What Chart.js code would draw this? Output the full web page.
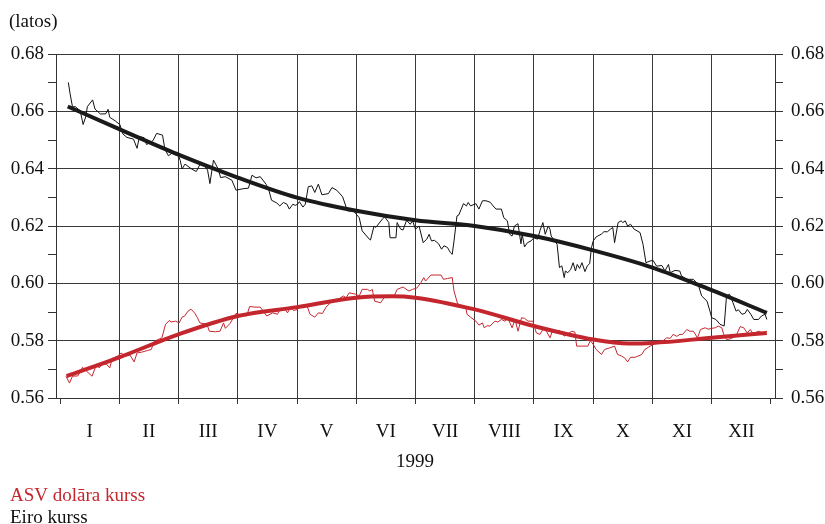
<!DOCTYPE html>
<html>
<head>
<meta charset="utf-8">
<script src="https://cdn.jsdelivr.net/npm/chart.js@4"></script>
<style>
  html, body { margin: 0; padding: 0; background: #fff; }
  #wrap { width: 825px; height: 524px; }
</style>
</head>
<body>
<div id="wrap"><canvas id="kursi" width="825" height="524"></canvas></div>
<script>
// Mēneši (x ass: 0..12, katrs mēnesis vienāds platums)
const monthLabels = ['I', 'II', 'III', 'IV', 'V', 'VI', 'VII', 'VIII', 'IX', 'X', 'XI', 'XII'];
const yTickValues = [0.56, 0.57, 0.58, 0.59, 0.60, 0.61, 0.62, 0.63, 0.64, 0.65, 0.66, 0.67, 0.68];
const yTickLabels = ['0.56', '', '0.58', '', '0.60', '', '0.62', '', '0.64', '', '0.66', '', '0.68'];

// Eiro kurss (dienas dati), pozīcija mēnešos
const euroPos = [0.14, 0.17, 0.21, 0.26, 0.34, 0.39, 0.44, 0.46, 0.55, 0.59, 0.68, 0.77, 0.81, 0.84, 0.93,
  1.01, 1.06, 1.13, 1.24, 1.30, 1.34, 1.42, 1.46, 1.57, 1.63, 1.73, 1.77, 1.83, 1.91, 1.98,
  2.03, 2.06, 2.11, 2.22, 2.30, 2.36, 2.43, 2.49, 2.53, 2.59, 2.67, 2.71, 2.79, 2.90, 2.97,
  3.09, 3.18, 3.24, 3.31, 3.38, 3.48, 3.52, 3.57, 3.66, 3.71, 3.77, 3.83, 3.87, 3.93, 3.97,
  4.01, 4.04, 4.10, 4.14, 4.19, 4.25, 4.30, 4.36, 4.42, 4.53, 4.59, 4.67, 4.77, 4.85, 4.96,
  5.05, 5.10, 5.22, 5.24, 5.30, 5.33, 5.44, 5.48, 5.55, 5.57, 5.67, 5.69, 5.75, 5.79, 5.85, 5.91, 5.95,
  6.00, 6.06, 6.13, 6.19, 6.23, 6.27, 6.32, 6.39, 6.44, 6.48, 6.54, 6.59, 6.62, 6.65, 6.70, 6.73, 6.81, 6.86, 6.89, 6.93,
  7.02, 7.07, 7.13, 7.19, 7.26, 7.31, 7.36, 7.45, 7.49, 7.55, 7.59, 7.63, 7.67, 7.73, 7.78, 7.80, 7.84, 7.89, 7.95,
  8.00, 8.06, 8.10, 8.15, 8.19, 8.24, 8.27, 8.29, 8.35, 8.39, 8.43, 8.47, 8.51, 8.53, 8.57, 8.62, 8.66, 8.70, 8.73, 8.77, 8.81, 8.86, 8.90, 8.94, 8.97,
  9.00, 9.05, 9.14, 9.18, 9.24, 9.29, 9.33, 9.36, 9.42, 9.47, 9.50, 9.54, 9.58, 9.63, 9.69, 9.79, 9.84, 9.89, 9.96,
  10.01, 10.07, 10.16, 10.21, 10.27, 10.30, 10.38, 10.46, 10.49, 10.58, 10.69, 10.77, 10.83, 10.92, 10.97,
  11.00, 11.07, 11.14, 11.21, 11.25, 11.30, 11.36, 11.41, 11.45, 11.51, 11.56, 11.60, 11.66, 11.71, 11.79, 11.84, 11.90, 11.93];
const euroRate = [0.6701, 0.6661, 0.6616, 0.6616, 0.6602, 0.6554, 0.6585, 0.6616, 0.6640, 0.6608, 0.6591, 0.6591, 0.6607, 0.6579, 0.6567,
  0.6554, 0.6521, 0.6509, 0.6503, 0.6471, 0.6512, 0.6508, 0.6484, 0.6498, 0.6523, 0.6517, 0.6468, 0.6445, 0.6457, 0.6457,
  0.6428, 0.6399, 0.6416, 0.6399, 0.6390, 0.6414, 0.6413, 0.6395, 0.6348, 0.6430, 0.6399, 0.6369, 0.6372, 0.6360, 0.6325,
  0.6330, 0.6332, 0.6377, 0.6368, 0.6372, 0.6345, 0.6329, 0.6290, 0.6280, 0.6270, 0.6282, 0.6276, 0.6259, 0.6276, 0.6272,
  0.6276, 0.6285, 0.6266, 0.6276, 0.6337, 0.6340, 0.6317, 0.6346, 0.6309, 0.6313, 0.6334, 0.6325, 0.6302, 0.6253, 0.6251,
  0.6229, 0.6183, 0.6154, 0.6151, 0.6200, 0.6195, 0.6224, 0.6232, 0.6212, 0.6159, 0.6159, 0.6212, 0.6189, 0.6186, 0.6220, 0.6206, 0.6218,
  0.6189, 0.6200, 0.6142, 0.6154, 0.6171, 0.6148, 0.6150, 0.6138, 0.6119, 0.6131, 0.6125, 0.6107, 0.6101, 0.6148, 0.6235, 0.6238, 0.6278, 0.6270, 0.6282, 0.6270,
  0.6278, 0.6259, 0.6288, 0.6288, 0.6283, 0.6270, 0.6259, 0.6259, 0.6229, 0.6218, 0.6171, 0.6165, 0.6200, 0.6208, 0.6138, 0.6171, 0.6127, 0.6142, 0.6148,
  0.6159, 0.6154, 0.6183, 0.6212, 0.6171, 0.6200, 0.6189, 0.6165, 0.6148, 0.6136, 0.6055, 0.6061, 0.6020, 0.6043, 0.6037, 0.6049, 0.6072, 0.6043, 0.6066, 0.6052, 0.6072, 0.6041, 0.6061, 0.6069, 0.6124,
  0.6148, 0.6162, 0.6172, 0.6180, 0.6180, 0.6189, 0.6195, 0.6142, 0.6212, 0.6218, 0.6212, 0.6218, 0.6200, 0.6206, 0.6189, 0.6177, 0.6136, 0.6072, 0.6078,
  0.6080, 0.6060, 0.6062, 0.6043, 0.6066, 0.6037, 0.6045, 0.6043, 0.6026, 0.6014, 0.6014, 0.5997, 0.5956, 0.5938, 0.5903,
  0.5880, 0.5874, 0.5857, 0.5851, 0.5956, 0.5962, 0.5932, 0.5903, 0.5908, 0.5892, 0.5895, 0.5909, 0.5892, 0.5874, 0.5874, 0.5886, 0.5892, 0.5874];

// ASV dolāra kurss (dienas dati)
const usdPos = [0.10, 0.16, 0.21, 0.30, 0.38, 0.45, 0.54, 0.62, 0.66, 0.70, 0.78, 0.84, 0.88, 0.97,
  1.03, 1.11, 1.18, 1.25, 1.30, 1.38, 1.48, 1.54, 1.59, 1.72, 1.78, 1.85, 1.87, 1.95,
  2.01, 2.06, 2.10, 2.16, 2.21, 2.27, 2.32, 2.36, 2.48, 2.52, 2.62, 2.70, 2.76, 2.79, 2.87, 2.97,
  3.04, 3.15, 3.20, 3.29, 3.38, 3.49, 3.59, 3.67, 3.71, 3.80, 3.84, 3.89, 3.94,
  4.01, 4.05, 4.12, 4.16, 4.22, 4.30, 4.36, 4.43, 4.49, 4.59, 4.70, 4.78, 4.83, 4.88, 4.99,
  5.05, 5.10, 5.19, 5.23, 5.27, 5.31, 5.41, 5.47, 5.55, 5.64, 5.69, 5.79, 5.89, 5.95,
  6.02, 6.09, 6.14, 6.17, 6.26, 6.34, 6.43, 6.47, 6.54, 6.62, 6.65, 6.71, 6.79, 6.85, 6.87, 6.93,
  7.02, 7.07, 7.13, 7.16, 7.21, 7.26, 7.34, 7.39, 7.45, 7.51, 7.56, 7.63, 7.68, 7.73, 7.79, 7.84, 7.90, 7.98,
  8.04, 8.10, 8.15, 8.21, 8.27, 8.32, 8.38, 8.43, 8.51, 8.57, 8.64, 8.69, 8.72, 8.80, 8.91, 8.95,
  9.00, 9.05, 9.14, 9.19, 9.28, 9.36, 9.41, 9.48, 9.53, 9.58, 9.63, 9.71, 9.82, 9.87, 9.93,
  10.01, 10.07, 10.13, 10.18, 10.24, 10.30, 10.35, 10.41, 10.46, 10.51, 10.58, 10.63, 10.69, 10.76, 10.81, 10.89, 10.94,
  11.00, 11.06, 11.11, 11.17, 11.20, 11.25, 11.31, 11.41, 11.48, 11.54, 11.60, 11.65, 11.70, 11.79, 11.86, 11.93];
const usdRate = [0.5676, 0.5652, 0.5676, 0.5677, 0.5707, 0.5693, 0.5676, 0.5719, 0.5705, 0.5716, 0.5719, 0.5705, 0.5738, 0.5746,
  0.5757, 0.5746, 0.5750, 0.5726, 0.5757, 0.5760, 0.5766, 0.5769, 0.5798, 0.5810, 0.5857, 0.5871, 0.5865, 0.5868,
  0.5862, 0.5882, 0.5885, 0.5903, 0.5910, 0.5897, 0.5880, 0.5862, 0.5857, 0.5833, 0.5831, 0.5833, 0.5862, 0.5843, 0.5860, 0.5895,
  0.5890, 0.5886, 0.5919, 0.5917, 0.5917, 0.5886, 0.5897, 0.5892, 0.5909, 0.5909, 0.5897, 0.5917, 0.5905,
  0.5909, 0.5917, 0.5915, 0.5927, 0.5892, 0.5882, 0.5897, 0.5895, 0.5917, 0.5938, 0.5944, 0.5956, 0.5950, 0.5967, 0.5962,
  0.5956, 0.5979, 0.5979, 0.5973, 0.5979, 0.5938, 0.5932, 0.5950, 0.5953, 0.5956, 0.5979, 0.5987, 0.5973, 0.5979,
  0.5983, 0.6002, 0.6020, 0.6008, 0.6029, 0.6029, 0.6029, 0.6014, 0.6017, 0.6020, 0.5973, 0.5929, 0.5921, 0.5915, 0.5892, 0.5882,
  0.5868, 0.5854, 0.5862, 0.5845, 0.5852, 0.5851, 0.5868, 0.5865, 0.5874, 0.5868, 0.5878, 0.5845, 0.5874, 0.5833, 0.5880, 0.5878, 0.5868, 0.5868,
  0.5827, 0.5822, 0.5839, 0.5833, 0.5810, 0.5839, 0.5833, 0.5836, 0.5816, 0.5824, 0.5833, 0.5830, 0.5781, 0.5781, 0.5781, 0.5800,
  0.5787, 0.5769, 0.5752, 0.5769, 0.5775, 0.5781, 0.5752, 0.5746, 0.5740, 0.5726, 0.5742, 0.5742, 0.5752, 0.5769, 0.5777,
  0.5787, 0.5792, 0.5801, 0.5800, 0.5810, 0.5808, 0.5822, 0.5815, 0.5822, 0.5822, 0.5839, 0.5833, 0.5833, 0.5810, 0.5839, 0.5845, 0.5840,
  0.5843, 0.5845, 0.5851, 0.5845, 0.5824, 0.5804, 0.5806, 0.5816, 0.5849, 0.5845, 0.5827, 0.5839, 0.5824, 0.5833, 0.5827, 0.5833];

// Izlīdzinātās tendences
const trendPos = [0.13, 1, 2, 3, 4, 5, 6, 7, 8, 9, 10, 11, 11.93];
const euroTrend = [0.6617, 0.6538, 0.6449, 0.6369, 0.6299, 0.6253, 0.6220, 0.6200, 0.6165, 0.6115, 0.6055, 0.5976, 0.5897];
const usdTrendPos = [0.11, 1, 2, 3, 4, 5, 5.6, 6, 7, 8, 9, 9.6, 10, 11, 11.93];
const usdTrend = [0.5676, 0.5742, 0.5822, 0.5886, 0.5917, 0.5950, 0.5955, 0.5950, 0.5909, 0.5851, 0.5804, 0.5790, 0.5792, 0.5810, 0.5827];

const RED = '#c4262e';
const INK = '#111';
const FONT = 'Liberation Serif';

function toPoints(xs, ys) {
    return xs.map((x, i) => ({ x: x, y: ys[i] }));
}

const isMonthEdge = v => Math.abs(v - Math.round(v)) < 1e-6;

const textPlugin = {
    id: 'texts',
    afterDraw(chart) {
        const ctx = chart.ctx;
        ctx.save();
        ctx.font = '19px "' + FONT + '"';
        ctx.textBaseline = 'alphabetic';
        ctx.fillStyle = INK;
        ctx.textAlign = 'left';
        ctx.fillText('(latos)', 9, 27);
        ctx.textAlign = 'center';
        ctx.fillText('1999', 415, 467);
        ctx.textAlign = 'left';
        ctx.fillStyle = RED;
        ctx.fillText('ASV dolāra kurss', 10, 501);
        ctx.fillStyle = INK;
        ctx.fillText('Eiro kurss', 10, 523);
        ctx.restore();
    }
};

function yAxis(position) {
    const left = position === 'left';
    return {
        type: 'linear',
        position: position,
        min: 0.56,
        max: 0.68,
        afterBuildTicks: s => { s.ticks = yTickValues.map(v => ({ value: v })); },
        afterFit: s => { s.width = left ? 56 : 50; },
        ticks: {
            color: INK,
            font: { family: FONT, size: 19 },
            padding: left ? 4 : 8,
            callback: (v, i) => yTickLabels[i]
        },
        grid: {
            drawOnChartArea: left,
            color: c => (c.index % 2 === 0 ? '#3a3a3a' : 'rgba(0,0,0,0)'),
            tickColor: '#333',
            tickLength: 8,
            lineWidth: 1
        },
        border: { display: true, color: '#333', width: 1 }
    };
}

function createChart() {
    const ctx = document.getElementById('kursi').getContext('2d');
    new Chart(ctx, {
        type: 'line',
        data: {
            datasets: [
                {
                    label: 'Eiro kurss (tendence)',
                    data: toPoints(trendPos, euroTrend),
                    borderColor: '#1a1a1a',
                    borderWidth: 4,
                    cubicInterpolationMode: 'monotone',
                    pointRadius: 0,
                    order: 0
                },
                {
                    label: 'ASV dolāra kurss (tendence)',
                    data: toPoints(usdTrendPos, usdTrend),
                    borderColor: RED,
                    borderWidth: 4,
                    cubicInterpolationMode: 'monotone',
                    pointRadius: 0,
                    order: 0
                },
                {
                    label: 'Eiro kurss',
                    data: toPoints(euroPos, euroRate),
                    borderColor: INK,
                    borderWidth: 1,
                    tension: 0,
                    pointRadius: 0,
                    order: 1
                },
                {
                    label: 'ASV dolāra kurss',
                    data: toPoints(usdPos, usdRate),
                    borderColor: RED,
                    borderWidth: 1,
                    tension: 0,
                    pointRadius: 0,
                    order: 1
                }
            ]
        },
        options: {
            responsive: false,
            animation: false,
            layout: { padding: { top: 54, left: 0, right: 0, bottom: 82 } },
            plugins: {
                legend: { display: false },
                tooltip: { enabled: false }
            },
            scales: {
                x: {
                    type: 'linear',
                    min: -0.068,
                    max: 12.068,
                    afterBuildTicks: s => {
                        const t = [];
                        for (let i = 0; i <= 12; i++) {
                            t.push({ value: i });
                            if (i < 12) t.push({ value: i + 0.5 });
                        }
                        s.ticks = t;
                    },
                    afterFit: s => { s.height = 44; },
                    ticks: {
                        autoSkip: false,
                        maxRotation: 0,
                        color: INK,
                        font: { family: FONT, size: 19 },
                        padding: 17,
                        callback: v => (isMonthEdge(v) ? '' : monthLabels[Math.floor(v)])
                    },
                    grid: {
                        color: c => {
                            const v = c.tick ? c.tick.value : 0;
                            return isMonthEdge(v) && v > 0 && v < 12 ? '#3a3a3a' : 'rgba(0,0,0,0)';
                        },
                        tickColor: c => (c.tick && isMonthEdge(c.tick.value) ? '#333' : 'rgba(0,0,0,0)'),
                        tickLength: 6,
                        lineWidth: 1
                    },
                    border: { display: true, color: '#333', width: 1 }
                },
                y: yAxis('left'),
                y2: yAxis('right')
            }
        },
        plugins: [textPlugin]
    });
}

document.addEventListener('DOMContentLoaded', createChart);
</script>
</body>
</html>
